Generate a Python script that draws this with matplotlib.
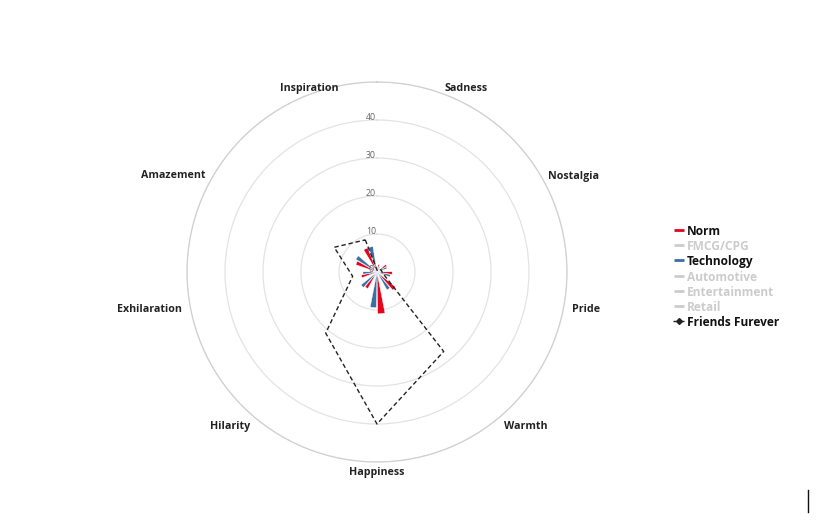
import matplotlib
matplotlib.use("Agg")
import matplotlib.pyplot as plt
import numpy as np
from matplotlib.lines import Line2D
from matplotlib.transforms import offset_copy

plt.rcParams["font.family"] = ["Open Sans", "DejaVu Sans"]

# ---- data ----
categories = ["Inspiration", "Sadness", "Nostalgia", "Pride", "Warmth",
              "Happiness", "Hilarity", "Exhilaration", "Amazement"]
norm = [6.8, 2.0, 3.0, 4.0, 6.3, 11.0, 5.0, 4.2, 5.9]
technology = [6.8, 1.5, 2.8, 3.6, 5.4, 9.4, 5.4, 3.7, 6.5]
friends_furever = [9.0, 0.3, 1.2, 1.5, 27.3, 40.0, 21.0, 6.5, 13.0]
r_ticks = [0, 10, 20, 30, 40]
r_max = 50

legend_names = ["Norm", "FMCG/CPG", "Technology", "Automotive",
                "Entertainment", "Retail", "Friends Furever"]
legend_shown = [True, False, True, False, False, False, True]

RED = "#e3051b"
BLUE = "#3a6ea5"
HIDDEN = "#cccccc"
legend_colors = [RED, HIDDEN, BLUE, HIDDEN, HIDDEN, HIDDEN, "#222222"]

W, H = 827, 527
fig = plt.figure(figsize=(W / 100, H / 100), dpi=100)

# polar plot: centre (377, 272) px, radius 190 px
cx, cy, rad = 377, 272, 190
ax = fig.add_axes([(cx - rad) / W, (H - cy - rad) / H, 2 * rad / W, 2 * rad / H],
                  projection="polar")
ax.set_theta_zero_location("N")
ax.set_theta_direction(-1)

theta = np.deg2rad((340 + 40 * np.arange(len(categories))) % 360)
step = np.deg2rad(40)
off = step * 0.15
bw = step * 0.25

ax.bar(theta - off, norm, width=bw, color=RED, edgecolor="white",
       linewidth=0.3, zorder=3)
ax.bar(theta + off, technology, width=bw, color=BLUE, edgecolor="white",
       linewidth=0.3, zorder=3)

closed_t = np.append(theta, theta[0])
closed_r = np.append(friends_furever, friends_furever[0])
ax.plot(closed_t, closed_r, color="#222222", lw=1.0, dashes=(3.2, 2.0),
        zorder=4)

ax.set_xlim(0, 2 * np.pi)
ax.set_ylim(0, r_max)

# grid
ax.set_xticks(theta)
ax.set_xticklabels([])
ax.xaxis.grid(False)
ax.set_yticks(r_ticks[1:] + [r_max])
ax.set_yticklabels([])
ax.yaxis.grid(True, color="#e3e3e3", lw=0.9)
ax.spines["polar"].set_color("#d0d0d0")
ax.spines["polar"].set_linewidth(0.9)
ax.tick_params(length=0)

# radial labels
lab_tr = offset_copy(ax.transData, fig=fig, x=-6, y=-2, units="dots")
for r in r_ticks:
    ax.text(0, r, str(r), transform=lab_tr, ha="center", va="bottom",
            fontsize=6.3, color="#666666", zorder=5)

# category labels
cat_tr = offset_copy(ax.transData, fig=fig, x=0, y=-3, units="dots")
for t, name in zip(theta, categories):
    s = np.sin(t)
    ha = "left" if s > 0.3 else ("right" if s < -0.4 else "center")
    ax.text(t, r_max * 198 / 190, name, ha=ha, va="center", fontsize=7.7,
            fontweight="bold", color="#222222", transform=cat_tr)

# legend (manual, Highcharts style)
row_y = 230
for name, shown, col in zip(legend_names, legend_shown, legend_colors):
    y = 1 - row_y / H
    if name == "Friends Furever":
        fig.add_artist(Line2D([673 / W, 684 / W], [y, y], color=col, lw=1.0,
                              dashes=(2, 1), transform=fig.transFigure))
        fig.add_artist(Line2D([678.5 / W], [y], marker="D", markersize=3,
                              color=col, transform=fig.transFigure))
    else:
        fig.add_artist(Line2D([674 / W, 684 / W], [y, y], color=col, lw=2.0,
                              solid_capstyle="butt", transform=fig.transFigure))
    fig.text(687 / W, y - 1.5 / H, name, ha="left", va="center", fontsize=8.6,
             fontweight="bold", color="#111111" if shown else HIDDEN)
    row_y += 15.2

# stray cursor mark in the lower right of the reference
fig.add_artist(Line2D([808 / W, 808 / W], [1 - 490 / H, 1 - 512 / H],
                      color="#111111", lw=1.0, transform=fig.transFigure))

fig.savefig("out.png", dpi=100, facecolor="white")
